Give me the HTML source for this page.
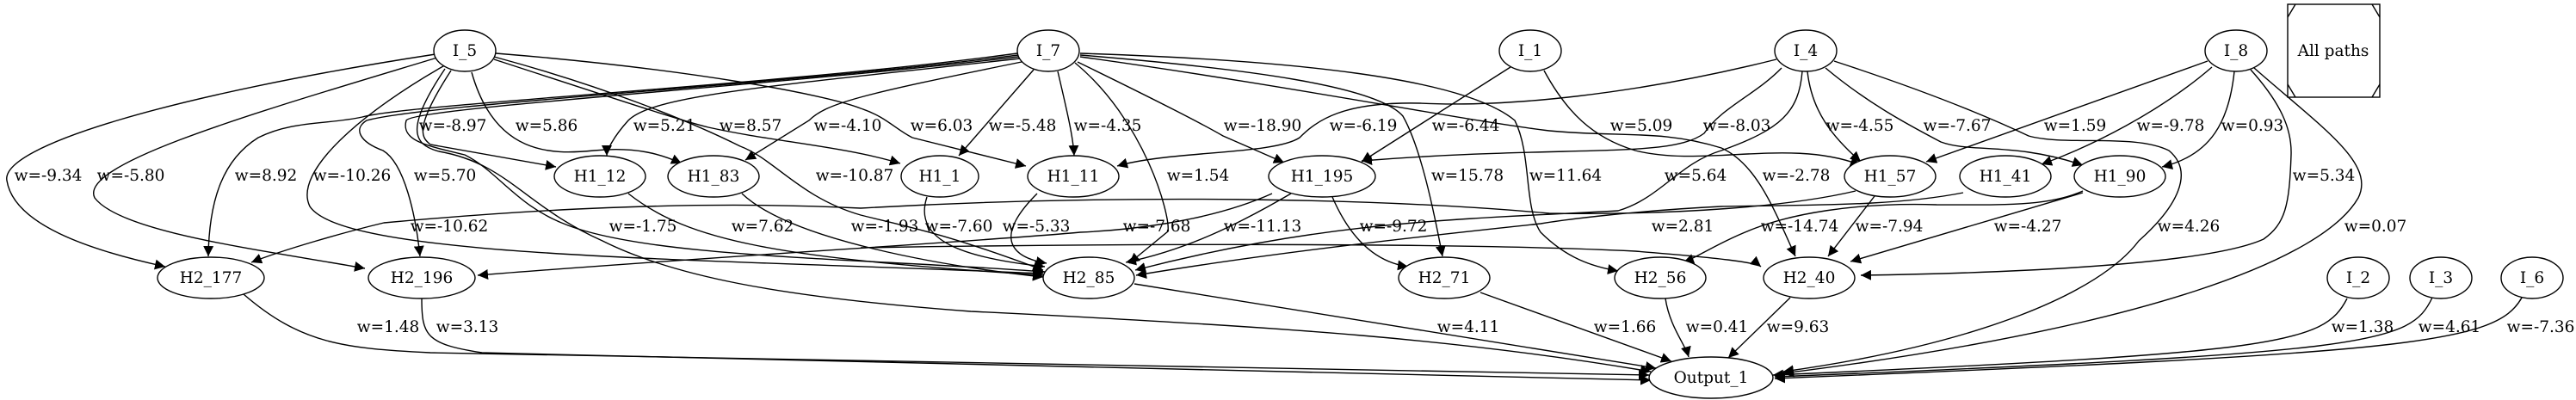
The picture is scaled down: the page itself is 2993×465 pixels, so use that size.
<!DOCTYPE html>
<html><head><meta charset="utf-8">
<style>
html,body{margin:0;padding:0;background:#fff;}
svg{display:block;}
text{font-family:"DejaVu Serif","Liberation Serif",serif;font-size:18.5px;fill:#000;}
.e{fill:none;stroke:#000;stroke-width:1.4;}
.n{fill:#fff;stroke:#000;stroke-width:1.4;}
</style></head><body>
<svg width="2993" height="465" viewBox="0 0 2993 465" xmlns="http://www.w3.org/2000/svg">
<defs>
<marker id="a" viewBox="0 0 10 10" refX="10" refY="5" markerWidth="12" markerHeight="12" markerUnits="userSpaceOnUse" orient="auto">
<path d="M0,0 L10,5 L0,10 z" fill="#000"/>
</marker>
</defs>
<g class="e" marker-end="url(#a)">
<path d="M506,63 C200,110 0,170 8,210 C16,260 100,290 192,310"/>
<path d="M508,67 C300,130 90,190 110,230 C140,270 300,290 424,312"/>
<path d="M522,73 C420,130 340,200 360,240 C400,300 800,300 1212,318"/>
<path d="M517,80 C470,150 480,168 510,176 C590,190 610,240 700,280 C780,320 900,345 1128,362 C1500,380 1700,395 1918,432"/>
<path d="M524,82 C480,150 490,160 500,168 L646,194"/>
<path d="M548,84 C575,180 640,180 690,175 C740,170 770,180 792,190"/>
<path d="M574,69 C700,110 790,140 823,148 C900,165 980,170 1046,190"/>
<path d="M576,62 C800,80 960,110 1000,126 C1030,136 1040,150 1060,160 L1192,193"/>
<path d="M574,66 C700,100 800,140 860,170 C900,185 930,230 1000,250 C1060,265 1100,272 1212,314"/>
<path d="M1182,62 C900,100 480,120 421,136 C380,145 340,140 300,160 C260,185 243,230 242,298"/>
<path d="M1183,64 C900,100 500,120 426,140 C410,150 418,165 445,175 C470,190 483,250 488,298"/>
<path d="M1183,66 C900,100 480,125 472,140 C465,165 500,170 540,180 C580,200 600,240 660,262 C760,300 1000,300 1214,316"/>
<path d="M1185,68 C900,100 760,110 730,140 C712,160 705,175 705,181"/>
<path d="M1187,72 C1000,110 960,120 940,140 L866,186"/>
<path d="M1201,81 L1114,181"/>
<path d="M1229,83 C1240,130 1247,160 1248,181"/>
<path d="M1249,73 C1330,140 1360,250 1357,269 L1312,306"/>
<path d="M1252,72 C1330,110 1390,140 1421,158 L1492,189"/>
<path d="M1255,64 C1450,80 1600,100 1630,135 C1650,170 1665,240 1676,298"/>
<path d="M1255,62 C1500,70 1700,90 1760,140 C1780,180 1770,240 1790,270 C1820,300 1850,310 1880,315"/>
<path d="M1255,66 C1500,100 1700,140 1800,152 C1880,160 1930,150 2000,172 C2040,190 2060,240 2086,298"/>
<path d="M1755,78 L1582,188"/>
<path d="M1794,82 C1820,130 1850,160 1900,175 C1980,195 2080,160 2162,192"/>
<path d="M2064,69 C1900,110 1750,125 1650,120 C1560,118 1530,140 1510,160 C1480,180 1360,175 1298,193"/>
<path d="M2070,79 C2040,110 2000,125 1980,155 C1940,185 1820,168 1582,187"/>
<path d="M2094,83 C2090,130 2070,150 2000,175 C1950,190 1930,230 1880,245 C1700,255 1542,256 1319,314"/>
<path d="M2100,83 C2105,130 2130,160 2162,188"/>
<path d="M2121,79 C2170,120 2217,145 2255,165 C2290,178 2340,165 2420,192"/>
<path d="M2131,71 C2250,110 2319,140 2357,158 C2400,170 2480,155 2520,175 C2550,200 2530,240 2485,280 C2440,340 2300,400 2072,432"/>
<path d="M2565,71 L2238,188"/>
<path d="M2570,78 C2510,130 2430,170 2372,191"/>
<path d="M2596,83 C2590,140 2570,180 2512,194"/>
<path d="M2615,81 C2650,120 2663,150 2662,180 C2660,240 2655,260 2630,278 C2560,310 2300,318 2162,320"/>
<path d="M2619,79 C2700,150 2760,190 2740,230 C2700,300 2500,380 2072,434"/>
<path d="M730,225 C800,280 900,300 1212,320"/>
<path d="M862,225 C920,280 1100,310 1212,322"/>
<path d="M1077,229 C1060,280 1120,300 1214,310"/>
<path d="M1205,225 C1150,280 1180,300 1216,306"/>
<path d="M1500,225 C1440,260 1380,290 1308,305"/>
<path d="M1548,229 C1570,280 1600,305 1636,310"/>
<path d="M1478,225 C1400,260 1300,268 1255,270 C1150,280 800,300 555,320"/>
<path d="M2156,222 C2080,240 1950,250 1800,248 C1600,230 1300,225 1000,242 C800,232 600,245 446,259 C400,270 330,290 292,305"/>
<path d="M2281,224 C2200,240 2100,238 2000,240 C1900,245 1820,255 1790,260 C1700,270 1500,290 1320,320"/>
<path d="M2420,222 C2380,240 2330,238 2250,238 C2150,235 2080,250 2040,265 C2000,280 1970,300 1956,305"/>
<path d="M2420,224 L2150,304"/>
<path d="M2178,228 L2124,298"/>
<path d="M1000,288 C1300,283 1700,282 1900,292 C2000,300 2040,305 2046,310"/>
<path d="M283,342 C350,400 400,405 500,410 L1916,436"/>
<path d="M490,347 C490,390 495,400 560,410 L1918,442"/>
<path d="M1318,330 L1924,428"/>
<path d="M1720,340 L1942,420"/>
<path d="M1935,347 C1940,380 1958,400 1962,415"/>
<path d="M2080,346 L2008,416"/>
<path d="M2727,347 C2700,400 2650,410 2060,436"/>
<path d="M2826,346 C2800,400 2760,410 2062,438"/>
<path d="M2930,346 C2900,400 2800,410 2062,440"/>
</g>
<g class="n">
<ellipse cx="540" cy="59" rx="36" ry="24"/>
<ellipse cx="1218" cy="59" rx="36" ry="24"/>
<ellipse cx="1778" cy="59" rx="36" ry="24"/>
<ellipse cx="2098" cy="59" rx="36" ry="24"/>
<ellipse cx="2598" cy="59" rx="36" ry="24"/>
<ellipse cx="697" cy="205" rx="53" ry="24"/>
<ellipse cx="829" cy="205" rx="53" ry="24"/>
<ellipse cx="1092" cy="205" rx="45" ry="24"/>
<ellipse cx="1247" cy="205" rx="53" ry="24"/>
<ellipse cx="1536" cy="205" rx="62" ry="24"/>
<ellipse cx="2196" cy="205" rx="53" ry="24"/>
<ellipse cx="2330" cy="205" rx="53" ry="24"/>
<ellipse cx="2463" cy="205" rx="53" ry="24"/>
<ellipse cx="245" cy="323" rx="62" ry="24"/>
<ellipse cx="490" cy="323" rx="62" ry="24"/>
<ellipse cx="1265" cy="323" rx="53" ry="24"/>
<ellipse cx="1678" cy="323" rx="53" ry="24"/>
<ellipse cx="1929" cy="323" rx="53" ry="24"/>
<ellipse cx="2102" cy="323" rx="53" ry="24"/>
<ellipse cx="2740" cy="323" rx="36" ry="24"/>
<ellipse cx="2836" cy="323" rx="36" ry="24"/>
<ellipse cx="2942" cy="323" rx="36" ry="24"/>
<ellipse cx="1988" cy="439" rx="72" ry="24"/>
<rect x="2658" y="5" width="107" height="108"/>
</g>
<g class="e">
<path d="M2658,20 L2667,5 M2756,5 L2765,20 M2658,98 L2667,113 M2756,113 L2765,98"/>
</g>
<g text-anchor="middle">
<text x="540" y="65">I_5</text>
<text x="1218" y="65">I_7</text>
<text x="1778" y="65">I_1</text>
<text x="2098" y="65">I_4</text>
<text x="2598" y="65">I_8</text>
<text x="2711" y="65">All paths</text>
<text x="697" y="211">H1_12</text>
<text x="829" y="211">H1_83</text>
<text x="1092" y="211">H1_1</text>
<text x="1247" y="211">H1_11</text>
<text x="1536" y="211">H1_195</text>
<text x="2196" y="211">H1_57</text>
<text x="2330" y="211">H1_41</text>
<text x="2463" y="211">H1_90</text>
<text x="245" y="329">H2_177</text>
<text x="490" y="329">H2_196</text>
<text x="1265" y="329">H2_85</text>
<text x="1678" y="329">H2_71</text>
<text x="1929" y="329">H2_56</text>
<text x="2102" y="329">H2_40</text>
<text x="2740" y="329">I_2</text>
<text x="2836" y="329">I_3</text>
<text x="2942" y="329">I_6</text>
<text x="1988" y="445">Output_1</text>
<text x="526" y="152">w=-8.97</text>
<text x="635" y="152">w=5.86</text>
<text x="772" y="152">w=5.21</text>
<text x="872" y="152">w=8.57</text>
<text x="985" y="152">w=-4.10</text>
<text x="1094" y="152">w=6.03</text>
<text x="1188" y="152">w=-5.48</text>
<text x="1287" y="152">w=-4.35</text>
<text x="1467" y="152">w=-18.90</text>
<text x="1584" y="152">w=-6.19</text>
<text x="1703" y="152">w=-6.44</text>
<text x="1907" y="152">w=5.09</text>
<text x="2018" y="152">w=-8.03</text>
<text x="2161" y="152">w=-4.55</text>
<text x="2274" y="152">w=-7.67</text>
<text x="2411" y="152">w=1.59</text>
<text x="2522" y="152">w=-9.78</text>
<text x="2617" y="152">w=0.93</text>
<text x="56" y="210">w=-9.34</text>
<text x="152" y="210">w=-5.80</text>
<text x="309" y="210">w=8.92</text>
<text x="409" y="210">w=-10.26</text>
<text x="517" y="210">w=5.70</text>
<text x="993" y="210">w=-10.87</text>
<text x="1392" y="210">w=1.54</text>
<text x="1705" y="210">w=15.78</text>
<text x="1819" y="210">w=11.64</text>
<text x="1970" y="210">w=5.64</text>
<text x="2087" y="210">w=-2.78</text>
<text x="2700" y="210">w=5.34</text>
<text x="522" y="269">w=-10.62</text>
<text x="747" y="269">w=-1.75</text>
<text x="886" y="269">w=7.62</text>
<text x="1028" y="269">w=-1.93</text>
<text x="1114" y="269">w=-7.60</text>
<text x="1204" y="269">w=-5.33</text>
<text x="1344" y="269">w=-7.68</text>
<text x="1467" y="269">w=-11.13</text>
<text x="1619" y="269">w=-9.72</text>
<text x="1955" y="269">w=2.81</text>
<text x="2091" y="269">w=-14.74</text>
<text x="2195" y="269">w=-7.94</text>
<text x="2356" y="269">w=-4.27</text>
<text x="2543" y="269">w=4.26</text>
<text x="2760" y="269">w=0.07</text>
<text x="451" y="386">w=1.48</text>
<text x="543" y="386">w=3.13</text>
<text x="1706" y="386">w=4.11</text>
<text x="1888" y="386">w=1.66</text>
<text x="1995" y="386">w=0.41</text>
<text x="2089" y="386">w=9.63</text>
<text x="2745" y="386">w=1.38</text>
<text x="2846" y="386">w=4.61</text>
<text x="2952" y="386">w=-7.36</text>
</g>
</svg>
</body></html>
